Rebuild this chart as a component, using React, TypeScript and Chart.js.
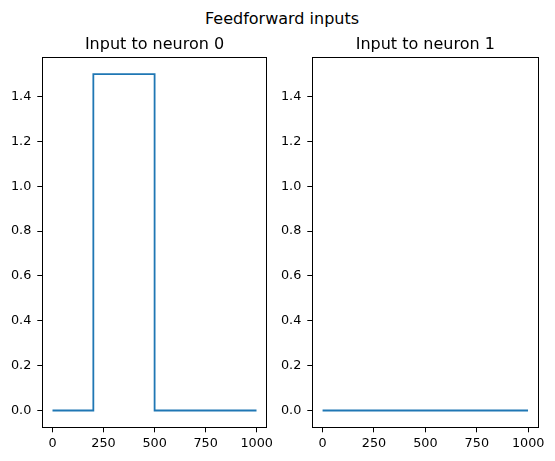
import React, { useEffect, useRef } from "react";
import { Chart, registerables } from "chart.js";

Chart.register(...registerables);

// ---- data ----
const figureTitle = "Feedforward inputs";
const panelTitles = ["Input to neuron 0", "Input to neuron 1"];
const times0 = [0, 200, 200, 500, 500, 999];
const input0 = [0, 0, 1.5, 1.5, 0, 0];
const times1 = [0, 999];
const input1 = [0, 0];
const xTickValues = [0, 250, 500, 750, 1000];
const yTickValues = [0, 0.2, 0.4, 0.6, 0.8, 1.0, 1.2, 1.4];
const xLimits = [-49.95, 1048.95];
const yLimits = [-0.075, 1.575];

const FONT = "'DejaVu Sans', sans-serif";
const LINE_COLOR = "#1f77b4";

const framePlugin = {
  id: "frame",
  afterDraw(chart: any) {
    const { ctx, chartArea: a } = chart;
    const al = (p: number) => Math.round(p - 0.5) + 0.5;
    ctx.save();
    ctx.strokeStyle = "#000";
    ctx.lineWidth = 1;
    const l = al(a.left), r = al(a.right), t = al(a.top), b = al(a.bottom);
    ctx.strokeRect(l, t, r - l, b - t);
    ctx.restore();
  },
};

function makeConfig(title: string, xs: number[], ys: number[], padRight: number): any {
  return {
    type: "line",
    data: {
      datasets: [
        {
          data: xs.map((x, i) => ({ x, y: ys[i] })),
          borderColor: LINE_COLOR,
          borderWidth: 1.8,
          pointRadius: 0,
          tension: 0,
          fill: false,
        },
      ],
    },
    options: {
      responsive: false,
      animation: false,
      devicePixelRatio: 1,
      layout: { padding: { left: 0, right: padRight, top: 0, bottom: 0 } },
      plugins: {
        legend: { display: false },
        tooltip: { enabled: false },
        title: {
          display: true,
          text: title,
          fullSize: false,
          color: "#000",
          font: { family: FONT, size: 16, weight: "normal" },
          padding: { top: 35.6, bottom: 2.6 },
        },
      },
      scales: {
        x: {
          type: "linear",
          min: xLimits[0],
          max: xLimits[1],
          afterBuildTicks: (axis: any) => {
            axis.ticks = xTickValues.map((v) => ({ value: v }));
          },
          afterFit: (axis: any) => {
            axis.height = 33.7;
          },
          ticks: {
            color: "#000",
            font: { family: FONT, size: 12.8 },
            padding: 4,
            maxRotation: 0,
            autoSkip: false,
            callback: (v: any) => String(v),
          },
          grid: {
            display: true,
            drawOnChartArea: false,
            drawTicks: true,
            tickLength: 5,
            tickColor: "#000",
            tickWidth: 1,
          },
          border: { display: true, color: "#000", width: 1 },
        },
        y: {
          type: "linear",
          min: yLimits[0],
          max: yLimits[1],
          afterBuildTicks: (axis: any) => {
            axis.ticks = yTickValues.map((v) => ({ value: v }));
          },
          afterFit: (axis: any) => {
            axis.width = 42.3;
          },
          ticks: {
            color: "#000",
            font: { family: FONT, size: 12.8 },
            padding: 6,
            autoSkip: false,
            callback: (v: any) => Number(v).toFixed(1),
          },
          grid: {
            display: true,
            drawOnChartArea: false,
            drawTicks: true,
            tickLength: 5,
            tickColor: "#000",
            tickWidth: 1,
          },
          border: { display: true, color: "#000", width: 1 },
        },
      },
    },
    plugins: [framePlugin],
  };
}

function Panel(props: { left: number; title: string; xs: number[]; ys: number[]; padRight: number }) {
  const ref = useRef<HTMLCanvasElement | null>(null);
  useEffect(() => {
    if (!ref.current) return;
    const chart = new Chart(ref.current, makeConfig(props.title, props.xs, props.ys, props.padRight));
    return () => chart.destroy();
  }, []);
  return (
    <canvas
      ref={ref}
      width={285}
      height={461}
      style={{ position: "absolute", left: props.left, top: 0, width: 285, height: 461 }}
    />
  );
}

export default function App() {
  return (
    <div
      style={{
        position: "absolute",
        left: 0,
        top: 0,
        width: 555,
        height: 461,
        background: "#fff",
        overflow: "hidden",
      }}
    >
      <div
        style={{
          position: "absolute",
          left: 282,
          top: 10.5,
          transform: "translateX(-50%)",
          fontFamily: FONT,
          fontSize: 16,
          lineHeight: "16px",
          whiteSpace: "nowrap",
          color: "#000",
        }}
      >
        {figureTitle}
      </div>
      <Panel left={0} title={panelTitles[0]} xs={times0} ys={input0} padRight={18.3} />
      <Panel left={270} title={panelTitles[1]} xs={times1} ys={input1} padRight={16.7} />
    </div>
  );
}
